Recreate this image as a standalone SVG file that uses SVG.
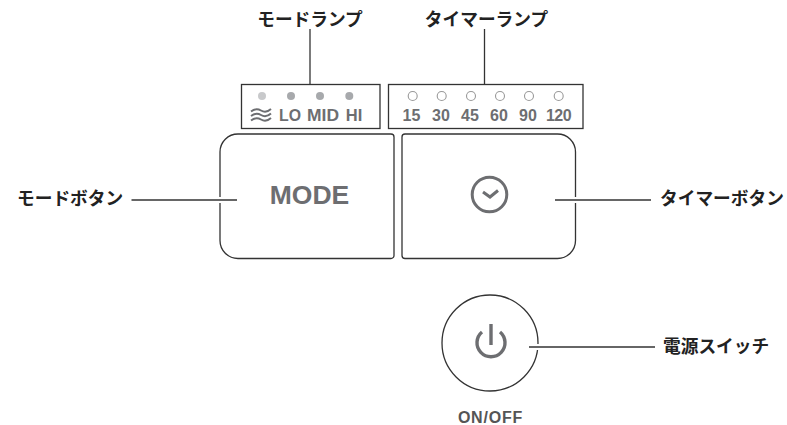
<svg xmlns="http://www.w3.org/2000/svg" width="787" height="425" viewBox="0 0 787 425">
<style>
text{font-family:"Liberation Sans","Noto Sans CJK JP",sans-serif;font-weight:700}
.lb{font-size:17.7px;fill:#222}
.sm{font-size:16px;fill:#6d6e71;text-anchor:middle}
.box{fill:none;stroke:#333;stroke-width:1.3}
.ln{fill:none;stroke:#333;stroke-width:1.3}
.halo{fill:none;stroke:#fff;stroke-width:6}
.ring{fill:#fff;stroke:#999;stroke-width:1.1}
.wave{fill:none;stroke:#6d6e71;stroke-width:1.9}
.icon{fill:none;stroke:#6d6e71;stroke-width:3}
</style>
<rect width="787" height="425" fill="#fff"/>
<g id="mode-lamp"><text class="lb" x="310" y="25.500" text-anchor="middle">モードランプ</text></g>
<g id="timer-lamp"><text class="lb" x="486.500" y="25.500" text-anchor="middle">タイマーランプ</text></g>
<g id="mode-panel">
<rect class="box" x="241.500" y="84.500" width="138.500" height="44"/>
<circle cx="262" cy="96" r="4" fill="#c8c9cb"/><g fill="#a7a9ac"><circle cx="291" cy="96" r="4"/><circle cx="320" cy="96" r="4"/><circle cx="349.300" cy="96" r="4"/></g>
<path class="wave" d="M251 111.500q5-4 10-1t10-1.500M251 116q5-4 10-1t10-1.500M251 120.500q5-4 10-1t10-1.500"/>
<text class="sm" x="290" y="121" font-size="16.500" textLength="22" lengthAdjust="spacingAndGlyphs" style="font-size:16.500px">LO</text><text class="sm" x="323" y="121" textLength="32" lengthAdjust="spacingAndGlyphs" style="font-size:16.500px">MID</text><text class="sm" x="354" y="121" style="font-size:16.500px">HI</text>
</g>
<g id="timer-panel">
<rect class="box" x="388.500" y="84.500" width="194.500" height="44"/>
<circle class="ring" cx="412.700" cy="96" r="4.500"/><circle class="ring" cx="441.700" cy="96" r="4.500"/><circle class="ring" cx="471" cy="96" r="4.500"/><circle class="ring" cx="500" cy="96" r="4.500"/><circle class="ring" cx="529" cy="96" r="4.500"/><circle class="ring" cx="558.700" cy="96" r="4.500"/>
<text class="sm" x="411.500" y="121">15</text><text class="sm" x="441" y="121">30</text><text class="sm" x="470" y="121">45</text><text class="sm" x="499" y="121">60</text><text class="sm" x="528" y="121">90</text><text class="sm" x="558.500" y="121" letter-spacing="-0.500">120</text>
</g>
<g id="mode-button">
<path class="box" d="M238 134H391a3 3 0 0 1 3 3V255.500a3 3 0 0 1-3 3H238a18 18 0 0 1-18-18V152a18 18 0 0 1 18-18Z"/>
<text x="309.500" y="204" font-size="26.500" fill="#6d6e71" text-anchor="middle">MODE</text>
</g>
<g id="timer-button">
<path class="box" d="M405 134H557.500a18 18 0 0 1 18 18V240.500a18 18 0 0 1-18 18H405a3 3 0 0 1-3-3V137a3 3 0 0 1 3-3Z"/>
<circle class="icon" cx="489.500" cy="194.500" r="17.300"/>
<path class="icon" d="M483 192L490 197L498 190.500"/>
</g>
<g id="power-switch">
<circle cx="490" cy="343" r="48" fill="none" stroke="#333" stroke-width="1.300"/>
<path class="icon" d="M491 324V345" style="stroke-width:3.400"/>
<path class="icon" d="M482 332a14 14 0 1 0 18 0" style="stroke-width:3.400"/>
<text x="490.500" y="423" font-size="16" letter-spacing="0.800" fill="#555" text-anchor="middle">ON/OFF</text>
</g>
<g id="mode-button-label"><text class="lb" x="17" y="204.500">モードボタン</text></g>
<g id="timer-button-label"><text class="lb" x="660" y="204.500">タイマーボタン</text></g>
<g id="power-label"><text class="lb" x="663" y="352.500">電源スイッチ</text></g>
<g id="connectors">
<path class="halo" d="M216 200H225M571 200H580M534 347H542"/>
<path class="ln" d="M310 29V84"/>
<path class="ln" d="M484.500 29V84"/>
<path class="ln" d="M131.500 200H237"/>
<path class="ln" d="M555 200H651"/>
<path class="ln" d="M529 347H655"/>
</g>
</svg>
